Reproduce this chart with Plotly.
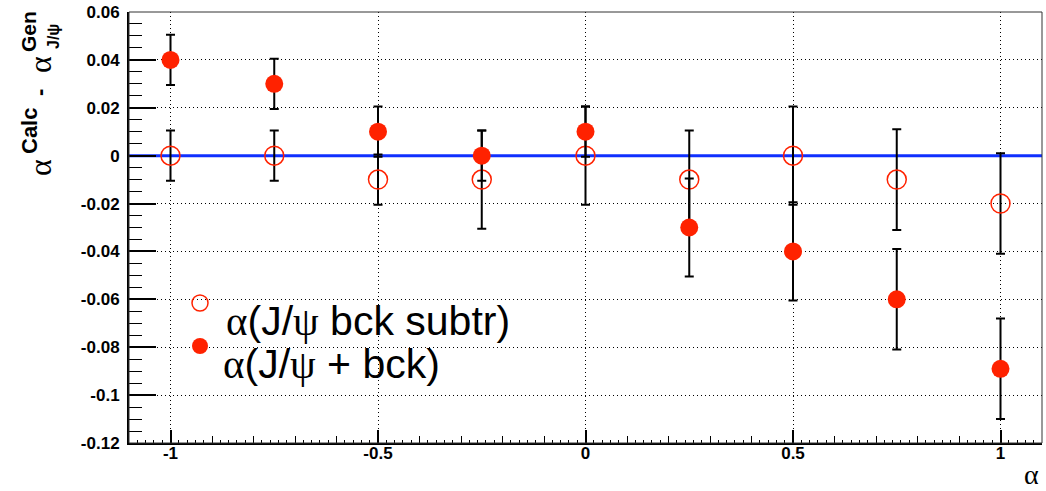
import plotly.graph_objects as go

# ---------------- data ----------------
alpha_gen = [-1.0, -0.75, -0.5, -0.25, 0.0, 0.25, 0.5, 0.75, 1.0]

# alpha(J/psi bck subtr)  (open circles)
diff_subtr = [0.0, 0.0, -0.01, -0.01, 0.0, -0.01, 0.0, -0.01, -0.02]
err_subtr = [0.0105, 0.0105, 0.0105, 0.0205, 0.0205, 0.0205, 0.0205, 0.021, 0.021]

# alpha(J/psi + bck)  (filled circles)
diff_bck = [0.04, 0.03, 0.01, 0.0, 0.01, -0.03, -0.04, -0.06, -0.089]
err_bck = [0.0105, 0.0105, 0.0105, 0.0105, 0.0105, 0.0205, 0.0205, 0.021, 0.021]

# constant reference line (fit level) over the x range
x_range = [-1.1, 1.1]
y_range = [-0.12, 0.06]
fit_level = 0.0

label_subtr = "α(J/ψ bck subtr)"
label_bck = "α(J/ψ + bck)"

x_tick_vals = [-1.0, -0.5, 0.0, 0.5, 1.0]
x_tick_text = ["-1", "-0.5", "0", "0.5", "1"]
y_tick_vals = [0.06, 0.04, 0.02, 0.0, -0.02, -0.04, -0.06, -0.08, -0.1, -0.12]
y_tick_text = ["0.06", "0.04", "0.02", "0", "-0.02", "-0.04", "-0.06", "-0.08", "-0.1", "-0.12"]

# ---------------- layout geometry ----------------
W, H = 1046, 491
ML, MR, MT, MB = 129, 4, 12, 48
PW = W - ML - MR
PH = H - MT - MB

def px(xp):
    return (xp - ML) / PW

def py(yp):
    return (H - MB - yp) / PH

RED = "#ff2200"
SANS = "Liberation Sans"
SERIF = "Liberation Serif"

fig = go.Figure()

fig.add_trace(go.Scatter(
    x=x_range, y=[fit_level] * len(x_range), mode="lines", showlegend=False, name="fit",
    line=dict(color="#1030ff", width=3), hoverinfo="skip",
))
fig.add_trace(go.Scatter(
    x=alpha_gen, y=diff_subtr, mode="markers", name=label_subtr, showlegend=False,
    marker=dict(symbol="circle-open", size=19, color=RED, line=dict(width=1.5, color=RED)),
    error_y=dict(type="data", array=err_subtr, visible=True, color="black", thickness=2, width=4.5),
))
fig.add_trace(go.Scatter(
    x=alpha_gen, y=diff_bck, mode="markers", name=label_bck, showlegend=False,
    marker=dict(symbol="circle", size=18, color=RED),
    error_y=dict(type="data", array=err_bck, visible=True, color="black", thickness=2, width=4.5),
))
# legend symbols
fig.add_trace(go.Scatter(
    x=[None], y=[None], mode="markers", name=" ", legendgroup="a",
    marker=dict(symbol="circle-open", size=18, color=RED, line=dict(width=1.5, color=RED)),
))
fig.add_trace(go.Scatter(
    x=[None], y=[None], mode="markers", name=" ", legendgroup="b",
    marker=dict(symbol="circle", size=17, color=RED),
))
# trace on overlay axis carrying the fine x ticks
fig.add_trace(go.Scatter(x=[None], y=[None], xaxis="x2", yaxis="y", showlegend=False, hoverinfo="skip"))

# frame
fig.add_shape(type="rect", xref="x domain", yref="y domain", x0=0, x1=1, y0=0, y1=1,
              line=dict(color="#333333", width=1), layer="above")

grid = dict(gridcolor="black", gridwidth=1, griddash="1px,3px")

fig.update_layout(
    width=W, height=H,
    margin=dict(l=ML, r=MR, t=MT, b=MB, pad=0),
    plot_bgcolor="white", paper_bgcolor="white",
    font=dict(family=SANS, color="black"),
    xaxis=dict(
        range=x_range, tickmode="array", tickvals=x_tick_vals, ticktext=x_tick_text,
        ticks="inside", ticklen=13, tickwidth=1.5, tickcolor="black",
        tickfont=dict(family=SANS, size=17, weight="bold"),
        showline=True, linewidth=2, linecolor="black", zeroline=False,
        showgrid=True, **grid,
        minor=dict(dtick=0.1, tick0=0, ticks="inside", ticklen=7, tickwidth=1.2,
                   tickcolor="black", showgrid=False),
        ticklabelstandoff=-6,
    ),
    xaxis2=dict(
        range=x_range, overlaying="x", anchor="y", side="bottom",
        tickmode="linear", tick0=0, dtick=0.02, ticks="inside", ticklen=3, tickwidth=1,
        tickcolor="black", showticklabels=False, showgrid=False, showline=False, zeroline=False,
    ),
    yaxis=dict(
        range=y_range, tickmode="array", tickvals=y_tick_vals, ticktext=y_tick_text,
        ticks="inside", ticklen=27, tickwidth=1.5, tickcolor="black",
        tickfont=dict(family=SANS, size=17, weight="bold"),
        showline=True, linewidth=2, linecolor="black", zeroline=False,
        showgrid=True, **grid,
        minor=dict(dtick=0.005, tick0=0, ticks="inside", ticklen=13, tickwidth=1.2,
                   tickcolor="black", showgrid=False),
        ticklabelstandoff=4,
    ),
    legend=dict(
        x=px(180), y=py(277), xanchor="left", yanchor="top",
        bgcolor="rgba(0,0,0,0)", borderwidth=0,
        font=dict(family=SANS, size=30), tracegroupgap=1,
        itemsizing="trace",
    ),
)

ann = []
def add_text(text, xp, yp, size, family=SANS, weight="normal", angle=0, xanchor="center"):
    ann.append(dict(text=text, x=px(xp), y=py(yp), xref="paper", yref="paper",
                    xanchor=xanchor, yanchor="middle", showarrow=False, textangle=angle,
                    borderpad=0,
                    font=dict(family=family, size=size, weight=weight, color="black")))

# y-axis title pieces (rotated)
add_text("α", 40, 168, 32, family=SERIF, angle=-90)
add_text("Calc", 29, 131, 22, weight="bold", angle=-90)
add_text("-", 40, 93, 22, weight="bold", angle=-90)
add_text("α", 40, 65, 32, family=SERIF, angle=-90)
add_text("Gen", 28, 32, 21, weight="bold", angle=-90)
add_text("J/ψ", 54, 37, 16, weight="bold", angle=-90)

# x-axis title
add_text("α", 1031, 474.5, 28, family=SERIF)

# legend texts
def legend_label(s):
    return s.replace("α", f'<span style="font-family:{SERIF}">α</span>').replace(
        "ψ", f'<span style="font-family:{SERIF}">ψ</span>')

add_text(legend_label(label_subtr), 225, 321, 41, xanchor="left")
add_text(legend_label(label_bck), 222, 364, 41, xanchor="left")

fig.update_layout(annotations=ann)

fig.write_html("out.html")
